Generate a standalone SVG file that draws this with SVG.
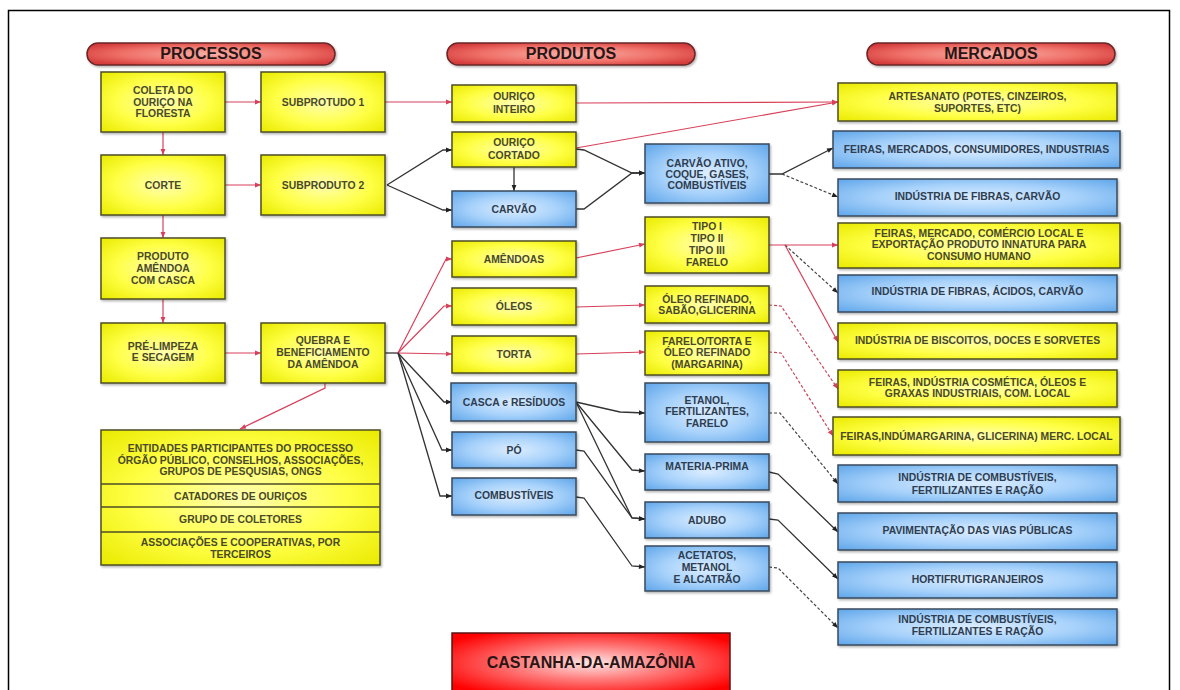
<svg xmlns="http://www.w3.org/2000/svg" width="1180" height="690" viewBox="0 0 1180 690">
<defs>
<style>
.y{fill:url(#gy);stroke:#4d4d26;stroke-width:1.5;filter:url(#sh)}
.b{fill:url(#gb);stroke:#3a4a5c;stroke-width:1.5;filter:url(#sh)}
.p{fill:url(#gp);stroke:#6b2626;stroke-width:1.5;filter:url(#sh)}
.t{font-family:"Liberation Sans",Arial,sans-serif;font-size:10.4px;font-weight:bold;text-anchor:middle}
.ty{fill:#4a4a28}
.tb{fill:#2e3d50}
.h{font-family:"Liberation Sans",Arial,sans-serif;font-size:16px;font-weight:bold;text-anchor:middle;fill:#2a1515}
.r{stroke:#d8405a;stroke-width:1.2;fill:none;marker-end:url(#ar)}
.rd{stroke:#c8485a;stroke-width:1.2;fill:none;stroke-dasharray:3 2;marker-end:url(#ar)}
.k{stroke:#333;stroke-width:1.3;fill:none;marker-end:url(#ak)}
.kn{stroke:#333;stroke-width:1.3;fill:none}
.kd{stroke:#444;stroke-width:1.2;fill:none;stroke-dasharray:3 2;marker-end:url(#ak)}
</style>
<radialGradient id="gy" cx="50%" cy="50%" r="70%"><stop offset="0" stop-color="#ffffb0"/><stop offset="0.55" stop-color="#ffff45"/><stop offset="1" stop-color="#eaea00"/></radialGradient>
<radialGradient id="gb" cx="50%" cy="50%" r="70%"><stop offset="0" stop-color="#dcedff"/><stop offset="0.5" stop-color="#a8d2fb"/><stop offset="1" stop-color="#5fa6ea"/></radialGradient>
<radialGradient id="gp" cx="50%" cy="50%" r="60%"><stop offset="0" stop-color="#f9b0a8"/><stop offset="0.6" stop-color="#ef7068"/><stop offset="1" stop-color="#d43c3c"/></radialGradient>
<radialGradient id="gc" cx="50%" cy="50%" r="62%"><stop offset="0" stop-color="#ffe6e6"/><stop offset="0.45" stop-color="#ff7a7a"/><stop offset="1" stop-color="#ff0000"/></radialGradient>
<filter id="sh" x="-10%" y="-20%" width="120%" height="140%"><feDropShadow dx="1.2" dy="1.5" stdDeviation="1" flood-color="#000" flood-opacity="0.3"/></filter>
<marker id="ar" viewBox="0 0 10 10" refX="10" refY="5" markerWidth="7" markerHeight="6" markerUnits="userSpaceOnUse" orient="auto"><path d="M0,1 L10,5 L0,9 z" fill="#d8405a"/></marker>
<marker id="ak" viewBox="0 0 10 10" refX="10" refY="5" markerWidth="7" markerHeight="6" markerUnits="userSpaceOnUse" orient="auto"><path d="M0,1 L10,5 L0,9 z" fill="#222"/></marker>
</defs>
<rect width="1180" height="690" fill="#fff"/>
<rect x="8.5" y="10.5" width="1161" height="690" fill="none" stroke="#000" stroke-width="1.5"/>

<g id="connectors">
<path class="r" d="M225,102 L261,102"/>
<path class="r" d="M163,132 L163,155"/>
<path class="r" d="M225,185 L261,185"/>
<path class="r" d="M163,215 L163,238"/>
<path class="r" d="M163,299 L163,323"/>
<path class="r" d="M225,353 L261,353"/>
<path class="r" d="M325,383 L325,388 L240,429"/>
<path class="r" d="M385,102 L452,102"/>
<path class="k" d="M387,185 L443,150 L452,150"/>
<path class="k" d="M387,185 L443,210 L452,210"/>
<path class="k" d="M514,167 L514,191"/>
<path class="r" d="M576,103 L838,102"/>
<path class="r" d="M576,148 L838,102"/>
<path class="k" d="M576,149 L584,150 L632,173 L645,173"/>
<path class="k" d="M576,209 L584,209 L632,173 L645,173"/>
<path class="k" d="M769,174 L782,174 L833,148"/>
<path class="kd" d="M782,174 L838,197"/>
<path class="kn" d="M385,353 L398,353"/>
<path class="r" d="M398,353 L446,259 L452,259"/>
<path class="r" d="M398,353 L444,306 L452,306"/>
<path class="r" d="M398,353 L452,354"/>
<path class="k" d="M398,353 L444,402 L452,402"/>
<path class="k" d="M398,353 L442,450 L452,450"/>
<path class="k" d="M398,353 L440,496 L452,496"/>
<path class="r" d="M576,258 L645,244"/>
<path class="r" d="M576,307 L645,305"/>
<path class="r" d="M576,354 L645,352"/>
<path class="r" d="M769,245 L838,245"/>
<path class="kd" d="M785,245 L838,293"/>
<path class="r" d="M785,245 L838,342"/>
<path class="rd" d="M769,305 L781,306 L838,389"/>
<path class="rd" d="M769,352 L781,353 L833,436"/>
<path class="k" d="M576,402 L620,412 L645,413"/>
<path class="k" d="M576,402 L632,470 L645,471"/>
<path class="k" d="M576,402 L632,518 L645,519"/>
<path class="k" d="M576,450 L584,451 L632,518 L645,519"/>
<path class="k" d="M576,497 L584,498 L632,566 L645,567"/>
<path class="kd" d="M769,413 L780,413 L838,484"/>
<path class="k" d="M769,472 L778,474 L838,532"/>
<path class="k" d="M769,519 L778,520 L838,579"/>
<path class="kd" d="M769,567 L778,568 L838,628"/>
</g>

<g id="hdr-processos"><rect class="p" x="87" y="43" width="248" height="22" rx="11"/><text class="h" x="211" y="59">PROCESSOS</text></g>
<g id="hdr-produtos"><rect class="p" x="447" y="43" width="248" height="22" rx="11"/><text class="h" x="571" y="59">PRODUTOS</text></g>
<g id="hdr-mercados"><rect class="p" x="867" y="43" width="248" height="22" rx="11"/><text class="h" x="991" y="59">MERCADOS</text></g>

<g id="coleta"><rect class="y" x="101" y="72" width="124" height="60"/><text class="t ty" x="163" y="94.2">COLETA DO<tspan x="163" dy="11.5">OURIÇO NA</tspan><tspan x="163" dy="11.5">FLORESTA</tspan></text></g>
<g id="subprotudo1"><rect class="y" x="261" y="72" width="124" height="60"/><text class="t ty" x="323" y="105.7">SUBPROTUDO 1</text></g>
<g id="corte"><rect class="y" x="101" y="155" width="124" height="60"/><text class="t ty" x="163" y="188.7">CORTE</text></g>
<g id="subproduto2"><rect class="y" x="261" y="155" width="124" height="60"/><text class="t ty" x="323" y="188.7">SUBPRODUTO 2</text></g>
<g id="produto-amendoa"><rect class="y" x="101" y="238" width="124" height="61"/><text class="t ty" x="163" y="260.2">PRODUTO<tspan x="163" dy="12">AMÊNDOA</tspan><tspan x="163" dy="12">COM CASCA</tspan></text></g>
<g id="pre-limpeza"><rect class="y" x="101" y="323" width="124" height="60"/><text class="t ty" x="163" y="349.5">PRÉ-LIMPEZA<tspan x="163" dy="11.2">E SECAGEM</tspan></text></g>
<g id="quebra"><rect class="y" x="261" y="323" width="124" height="60"/><text class="t ty" x="323" y="343.7">QUEBRA E<tspan x="323" dy="12">BENEFICIAMENTO</tspan><tspan x="323" dy="12">DA AMÊNDOA</tspan></text></g>
<g id="entidades"><rect class="y" x="101" y="430" width="279" height="135"/>
<path d="M101,484 H380 M101,507 H380 M101,532 H380" stroke="#4d4d26" stroke-width="1.5"/>
<text class="t ty" x="240.5" y="452">ENTIDADES PARTICIPANTES DO PROCESSO<tspan x="240.5" dy="11.5">ÓRGÃO PÚBLICO, CONSELHOS, ASSOCIAÇÕES,</tspan><tspan x="240.5" dy="11.3">GRUPOS DE PESQUSIAS, ONGS</tspan></text>
<text class="t ty" x="240.5" y="499.5">CATADORES DE OURIÇOS</text>
<text class="t ty" x="240.5" y="523">GRUPO DE COLETORES</text>
<text class="t ty" x="240.5" y="546">ASSOCIAÇÕES E COOPERATIVAS, POR<tspan x="240.5" dy="11.7">TERCEIROS</tspan></text></g>

<g id="ourico-inteiro"><rect class="y" x="452" y="85" width="124" height="37"/><text class="t ty" x="514" y="100.4">OURIÇO<tspan x="514" dy="12.3">INTEIRO</tspan></text></g>
<g id="ourico-cortado"><rect class="y" x="452" y="132" width="124" height="35"/><text class="t ty" x="514" y="146.4">OURIÇO<tspan x="514" dy="12.3">CORTADO</tspan></text></g>
<g id="carvao"><rect class="b" x="452" y="191" width="124" height="36"/><text class="t tb" x="514" y="212.7">CARVÃO</text></g>
<g id="amendoas"><rect class="y" x="452" y="241" width="124" height="36"/><text class="t ty" x="514" y="262.7">AMÊNDOAS</text></g>
<g id="oleos"><rect class="y" x="452" y="288" width="124" height="37"/><text class="t ty" x="514" y="310.4">ÓLEOS</text></g>
<g id="torta"><rect class="y" x="452" y="336" width="124" height="37"/><text class="t ty" x="514" y="358">TORTA</text></g>
<g id="casca"><rect class="b" x="451" y="383" width="125" height="38"/><text class="t tb" x="514" y="406.4">CASCA e RESÍDUOS</text></g>
<g id="po"><rect class="b" x="452" y="432" width="124" height="36"/><text class="t tb" x="514" y="454.4">PÓ</text></g>
<g id="combustiveis"><rect class="b" x="452" y="478" width="124" height="37"/><text class="t tb" x="514" y="498.7">COMBUSTÍVEIS</text></g>

<g id="carvao-ativo"><rect class="b" x="645" y="144" width="124" height="59"/><text class="t tb" x="707" y="167">CARVÃO ATIVO,<tspan x="707" dy="10.9">COQUE, GASES,</tspan><tspan x="707" dy="11">COMBUSTÍVEIS</tspan></text></g>
<g id="tipos"><rect class="y" x="645" y="217" width="124" height="56"/><text class="t ty" x="707" y="230.4">TIPO I<tspan x="707" dy="12">TIPO II</tspan><tspan x="707" dy="11.7">TIPO III</tspan><tspan x="707" dy="11.6">FARELO</tspan></text></g>
<g id="oleo-refinado"><rect class="y" x="645" y="286" width="124" height="37"/><text class="t ty" x="707" y="303">ÓLEO REFINADO,<tspan x="707" dy="10.7">SABÃO,GLICERINA</tspan></text></g>
<g id="farelo-torta"><rect class="y" x="645" y="331" width="124" height="44"/><text class="t ty" x="707" y="344.7">FARELO/TORTA E<tspan x="707" dy="11.6">ÓLEO REFINADO</tspan><tspan x="707" dy="11.4">(MARGARINA)</tspan></text></g>
<g id="etanol"><rect class="b" x="645" y="383" width="124" height="59"/><text class="t tb" x="707" y="404.4">ETANOL,<tspan x="707" dy="11">FERTILIZANTES,</tspan><tspan x="707" dy="11.6">FARELO</tspan></text></g>
<g id="materia-prima"><rect class="b" x="645" y="454" width="124" height="36"/><text class="t tb" x="707" y="469.7">MATERIA-PRIMA</text></g>
<g id="adubo"><rect class="b" x="645" y="502" width="124" height="36"/><text class="t tb" x="707" y="523.7">ADUBO</text></g>
<g id="acetatos"><rect class="b" x="645" y="546" width="124" height="45"/><text class="t tb" x="707" y="558.7">ACETATOS,<tspan x="707" dy="12.3">METANOL</tspan><tspan x="707" dy="11.7">E ALCATRÃO</tspan></text></g>

<g id="artesanato"><rect class="y" x="838" y="83" width="279" height="38"/><text class="t ty" x="977.5" y="99.7">ARTESANATO (POTES, CINZEIROS,<tspan x="977.5" dy="12.3">SUPORTES, ETC)</tspan></text></g>
<g id="feiras-mercados"><rect class="b" x="833" y="131" width="287" height="37"/><text class="t tb" x="976.5" y="152.7">FEIRAS, MERCADOS, CONSUMIDORES, INDUSTRIAS</text></g>
<g id="ind-fibras-carvao"><rect class="b" x="838" y="179" width="279" height="37"/><text class="t tb" x="977.5" y="200.4">INDÚSTRIA DE FIBRAS, CARVÃO</text></g>
<g id="feiras-exportacao"><rect class="y" x="838" y="223" width="282" height="45"/><text class="t ty" x="979" y="237">FEIRAS, MERCADO, COMÉRCIO LOCAL E<tspan x="979" dy="11">EXPORTAÇÃO PRODUTO INNATURA PARA</tspan><tspan x="979" dy="11.7">CONSUMO HUMANO</tspan></text></g>
<g id="ind-fibras-acidos"><rect class="b" x="838" y="275" width="279" height="37"/><text class="t tb" x="977.5" y="295.4">INDÚSTRIA DE FIBRAS, ÁCIDOS, CARVÃO</text></g>
<g id="biscoitos"><rect class="y" x="838" y="323" width="279" height="36"/><text class="t ty" x="977.5" y="343.7">INDÚSTRIA DE BISCOITOS, DOCES E SORVETES</text></g>
<g id="cosmetica"><rect class="y" x="838" y="370" width="279" height="37"/><text class="t ty" x="977.5" y="386">FEIRAS, INDÚSTRIA COSMÉTICA, ÓLEOS E<tspan x="977.5" dy="11">GRAXAS INDUSTRIAIS, COM. LOCAL</tspan></text></g>
<g id="margarina"><rect class="y" x="833" y="417" width="287" height="38"/><text class="t ty" x="976.5" y="439.7">FEIRAS,INDÚMARGARINA, GLICERINA) MERC. LOCAL</text></g>
<g id="ind-combustiveis-1"><rect class="b" x="838" y="465" width="279" height="37"/><text class="t tb" x="977.5" y="481.4">INDÚSTRIA DE COMBUSTÍVEIS,<tspan x="977.5" dy="12.3">FERTILIZANTES E RAÇÃO</tspan></text></g>
<g id="pavimentacao"><rect class="b" x="838" y="513" width="279" height="37"/><text class="t tb" x="977.5" y="534.4">PAVIMENTAÇÃO DAS VIAS PÚBLICAS</text></g>
<g id="hortifruti"><rect class="b" x="838" y="562" width="279" height="36"/><text class="t tb" x="977.5" y="583">HORTIFRUTIGRANJEIROS</text></g>
<g id="ind-combustiveis-2"><rect class="b" x="838" y="609" width="279" height="36"/><text class="t tb" x="977.5" y="622.7">INDÚSTRIA DE COMBUSTÍVEIS,<tspan x="977.5" dy="12.7">FERTILIZANTES E RAÇÃO</tspan></text></g>

<g id="castanha"><rect x="452" y="633" width="278" height="60" fill="url(#gc)" stroke="#5a1414" stroke-width="1.5"/><text class="h" x="591" y="667.7" fill="#3a1010">CASTANHA-DA-AMAZÔNIA</text></g>
</svg>
